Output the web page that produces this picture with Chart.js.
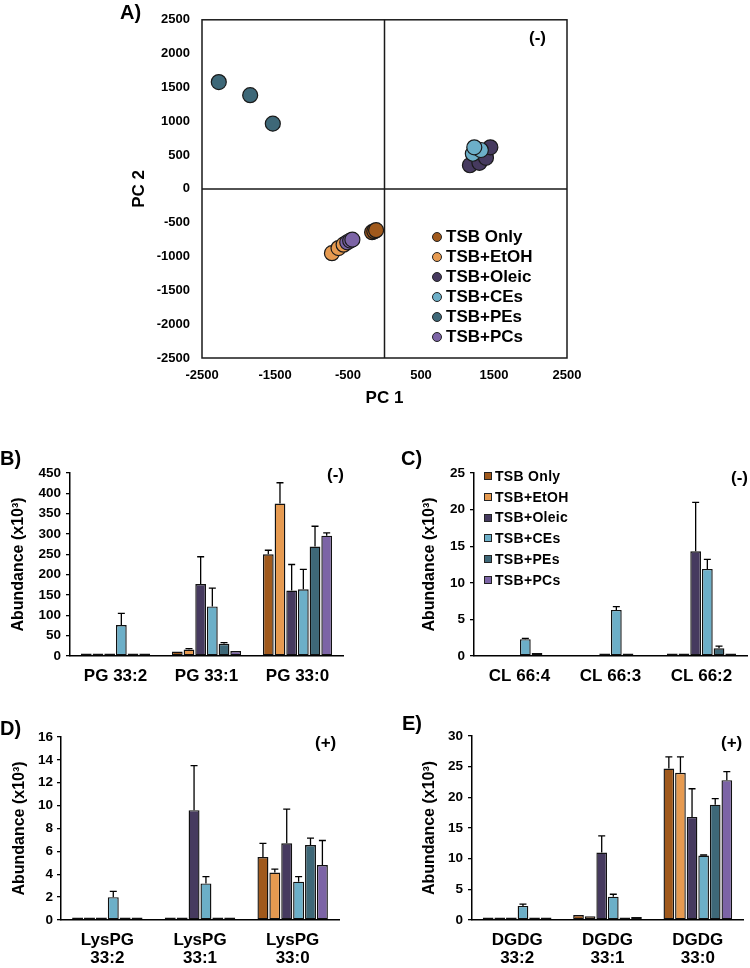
<!DOCTYPE html>
<html>
<head>
<meta charset="utf-8">
<script src="https://cdn.jsdelivr.net/npm/chart.js@4.4.0/dist/chart.umd.min.js"></script>
<style>
  body { margin: 0; background: #fff; font-family: "Liberation Sans", Arial, sans-serif; }
  #page { position: relative; width: 750px; height: 968px; overflow: hidden; }
  canvas { position: absolute; }
  .tag { position: absolute; font-weight: bold; color: #000; white-space: nowrap; line-height: 1; }
  .legend { position: absolute; font-weight: bold; color: #000; }
  .legend div { display: flex; align-items: center; white-space: nowrap; }
  .legend span.mk { display: inline-block; box-sizing: border-box; border: 1px solid #222; }
</style>
</head>
<body>
<div id="page">
  <canvas id="pca" width="500" height="420" style="left:100px;top:0"></canvas>
  <canvas id="pg" width="370" height="260" style="left:0;top:440px"></canvas>
  <canvas id="cl" width="375" height="260" style="left:375px;top:440px"></canvas>
  <canvas id="lyspg" width="370" height="268" style="left:0;top:700px"></canvas>
  <canvas id="dgdg" width="375" height="268" style="left:375px;top:700px"></canvas>

  <div class="tag" style="left:120px;top:2px;font-size:20px">A)</div>
  <div class="tag" style="left:529px;top:29px;font-size:17px">(-)</div>
  <div class="tag" style="left:0;top:448px;font-size:20px">B)</div>
  <div class="tag" style="left:327px;top:466px;font-size:17px">(-)</div>
  <div class="tag" style="left:401px;top:448px;font-size:20px">C)</div>
  <div class="tag" style="left:731px;top:469px;font-size:17px">(-)</div>
  <div class="tag" style="left:0;top:718px;font-size:20px">D)</div>
  <div class="tag" style="left:315px;top:734px;font-size:17px">(+)</div>
  <div class="tag" style="left:402px;top:713px;font-size:20px">E)</div>
  <div class="tag" style="left:721px;top:734px;font-size:17px">(+)</div>

  <div class="legend" id="legA" style="left:432px;top:227px;font-size:17px;line-height:20px"></div>
  <div class="legend" id="legC" style="left:484px;top:466px;font-size:14px;line-height:20.7px;letter-spacing:0.3px"></div>
</div>
<script>
// groups and colours
const groups = ['TSB Only', 'TSB+EtOH', 'TSB+Oleic', 'TSB+CEs', 'TSB+PEs', 'TSB+PCs'];
const colors = ['#a0591c', '#e69a50', '#463a5f', '#6cafc8', '#3e6878', '#7c64a6'];

// A) PCA scores [PC1, PC2]
const pcaTsbOnly = [[-170, -640], [-140, -625], [-115, -610]];
const pcaEtOH = [[-720, -950], [-630, -875], [-560, -825]];
const pcaOleic = [[1170, 350], [1300, 385], [1390, 460], [1450, 615]];
const pcaCEs = [[1210, 520], [1320, 575], [1230, 615]];
const pcaPEs = [[-2270, 1580], [-1840, 1385], [-1530, 965]];
const pcaPCs = [[-510, -790], [-470, -765], [-440, -750]];
const pcaTicksX = [-2500, -1500, -500, 500, 1500, 2500];

// B) PG
const pgLabels = ['PG 33:2', 'PG 33:1', 'PG 33:0'];
const pgMean = [[2, 11, 250], [2, 16, 375], [2, 177, 161], [76, 122, 164], [3, 30, 269], [2, 12, 296]];
const pgErr = [[0, 0, 10], [0, 2, 51], [0, 67, 64], [29, 45, 49], [0, 3, 50], [0, 0, 7]];

// C) CL  (null = no bar visible)
const clLabels = ['CL 66:4', 'CL 66:3', 'CL 66:2'];
const clMean = [[null, null, 0.15], [null, null, 0.1], [null, 0.35, 14.3], [2.3, 6.3, 11.9], [0.4, 0.1, 1.05], [null, null, 0.1]];
const clErr = [[0, 0, 0], [0, 0, 0], [0, 0, 6.7], [0.1, 0.45, 1.3], [0, 0, 0.3], [0, 0, 0]];

// D) LysPG
const lyspgLabels = [['LysPG', '33:2'], ['LysPG', '33:1'], ['LysPG', '33:0']];
const lyspgMean = [[0.1, 0.1, 5.5], [0.1, 0.1, 4.15], [0.1, 9.6, 6.7], [2.0, 3.2, 3.35], [0.1, 0.1, 6.55], [0.1, 0.1, 4.8]];
const lyspgErr = [[0, 0, 1.2], [0, 0, 0.3], [0, 3.9, 3.0], [0.5, 0.6, 0.45], [0, 0, 0.6], [0, 0, 2.15]];

// E) DGDG
const dgdgLabels = [['DGDG', '33:2'], ['DGDG', '33:1'], ['DGDG', '33:0']];
const dgdgMean = [[0.15, 0.8, 24.7], [0.15, 0.6, 24.0], [0.15, 11.0, 16.8], [2.3, 3.8, 10.5], [0.1, 0.4, 18.8], [0.1, 0.5, 22.8]];
const dgdgErr = [[0, 0, 1.9], [0, 0, 2.6], [0, 2.7, 4.6], [0.3, 0.4, 0.1], [0, 0, 1.0], [0, 0, 1.4]];

Chart.defaults.font.family = '"Liberation Sans", Arial, sans-serif';
Chart.defaults.font.weight = 'bold';
Chart.defaults.color = '#000';
Chart.defaults.animation = false;

// box + zero cross lines for the PCA plot
const pcaFrame = {
    id: 'pcaFrame',
    beforeDatasetsDraw(chart) {
        const { ctx, chartArea: a, scales: { x, y } } = chart;
        const x0 = x.getPixelForValue(0), y0 = y.getPixelForValue(0);
        ctx.save();
        ctx.strokeStyle = '#1a1a1a';
        ctx.lineWidth = 1.5;
        ctx.strokeRect(a.left, a.top, a.width, a.height);
        ctx.beginPath();
        ctx.moveTo(x0, a.top); ctx.lineTo(x0, a.bottom);
        ctx.moveTo(a.left, y0); ctx.lineTo(a.right, y0);
        ctx.stroke();
        ctx.restore();
    }
};

// upper error bars on top of each bar
const errorBars = {
    id: 'errorBars',
    afterDatasetsDraw(chart, args, opts) {
        const errs = opts.errors;
        if (!errs) return;
        const ctx = chart.ctx, y = chart.scales.y;
        ctx.save();
        ctx.strokeStyle = '#000';
        ctx.lineWidth = 1.3;
        chart.data.datasets.forEach((ds, i) => {
            chart.getDatasetMeta(i).data.forEach((bar, j) => {
                const e = errs[i][j];
                if (!e || ds.data[j] == null) return;
                const top = y.getPixelForValue(ds.data[j] + e);
                ctx.beginPath();
                ctx.moveTo(bar.x, bar.y);
                ctx.lineTo(bar.x, top);
                ctx.moveTo(bar.x - 3.5, top);
                ctx.lineTo(bar.x + 3.5, top);
                ctx.stroke();
            });
        });
        ctx.restore();
    }
};

const pcaSets = [pcaTsbOnly, pcaEtOH, pcaOleic, pcaCEs, pcaPEs, pcaPCs];
new Chart(document.getElementById('pca'), {
    type: 'scatter',
    data: {
        datasets: pcaSets.map((pts, i) => ({
            label: groups[i],
            data: pts.map(p => ({ x: p[0], y: p[1] })),
            backgroundColor: colors[i],
            borderColor: '#1a1a1a',
            borderWidth: 1.2,
            pointRadius: 7.5,
            order: -i
        }))
    },
    options: {
        responsive: false,
        layout: { padding: { left: 0, right: 33, top: 15, bottom: 0 } },
        plugins: { legend: { display: false }, tooltip: { enabled: false } },
        scales: {
            x: {
                min: -2500, max: 2500,
                afterBuildTicks: s => { s.ticks = pcaTicksX.map(v => ({ value: v })); },
                afterFit: s => { s.height = 62; },
                grid: { display: false, drawTicks: false },
                border: { display: false },
                ticks: { font: { size: 13 }, padding: 10, maxRotation: 0, callback: v => v },
                title: { display: true, text: 'PC 1', font: { size: 17 }, padding: { top: 0, bottom: 11 } }
            },
            y: {
                min: -2500, max: 2500,
                ticks: { stepSize: 500, font: { size: 13 }, padding: 12, callback: v => v },
                afterFit: s => { s.width = 102; },
                grid: { display: false, drawTicks: false },
                border: { display: false },
                title: { display: true, text: 'PC 2', font: { size: 17 }, padding: { top: 29, bottom: 0 } }
            }
        }
    },
    plugins: [pcaFrame]
});

function barChart(id, labels, means, errs, yMax, yStep, g) {
    new Chart(document.getElementById(id), {
        type: 'bar',
        data: {
            labels: labels,
            datasets: means.map((m, i) => ({
                label: groups[i],
                data: m,
                backgroundColor: colors[i],
                borderColor: '#111',
                borderWidth: 1.4,
                borderSkipped: false,
                minBarLength: 2.5,
                categoryPercentage: 0.77,
                barPercentage: 0.92
            }))
        },
        options: {
            responsive: false,
            layout: { padding: { left: 0, right: g.right, top: g.top, bottom: 0 } },
            plugins: { legend: { display: false }, tooltip: { enabled: false }, errorBars: { errors: errs } },
            scales: {
                x: {
                    afterFit: s => { s.height = g.xh; },
                    grid: { display: false, drawTicks: false },
                    border: { display: true, color: '#000', width: 1.5 },
                    ticks: { font: { size: 17, lineHeight: 1.08 }, padding: g.xpad, maxRotation: 0, autoSkip: false }
                },
                y: {
                    min: 0, max: yMax,
                    afterFit: s => { s.width = g.yw; },
                    grid: { display: true, drawOnChartArea: false, drawTicks: true, tickLength: 4, color: '#000', lineWidth: 1.3 },
                    border: { display: true, color: '#000', width: 1.5 },
                    ticks: { stepSize: yStep, font: { size: 13.5 }, padding: g.ypad },
                    title: { display: true, text: 'Abundance (x10³)', font: { size: 16 }, padding: { top: g.tpad, bottom: 0 } }
                }
            }
        },
        plugins: [errorBars]
    });
}

barChart('pg', pgLabels, pgMean, pgErr, 450, 50, { yw: 70, right: 27, top: 33, xh: 44, xpad: 11, ypad: 5, tpad: 9 });
barChart('cl', clLabels, clMean, clErr, 25, 5, { yw: 99, right: 3, top: 33, xh: 44, xpad: 11, ypad: 5, tpad: 45 });
barChart('lyspg', lyspgLabels, lyspgMean, lyspgErr, 16, 2, { yw: 61, right: 31, top: 37, xh: 48, xpad: 11, ypad: 4, tpad: 10 });
barChart('dgdg', dgdgLabels, dgdgMean, dgdgErr, 30, 5, { yw: 97, right: 7, top: 36, xh: 48, xpad: 11, ypad: 5, tpad: 45 });

// legends as html
function fillLegend(id, round, size) {
    const el = document.getElementById(id);
    groups.forEach((name, i) => {
        const row = document.createElement('div');
        const mk = document.createElement('span');
        mk.className = 'mk';
        mk.style.width = size + 'px';
        mk.style.height = size + 'px';
        mk.style.background = colors[i];
        mk.style.borderRadius = round ? '50%' : '0';
        mk.style.marginRight = round ? '4px' : '3px';
        row.appendChild(mk);
        row.appendChild(document.createTextNode(name));
        el.appendChild(row);
    });
}
fillLegend('legA', true, 10);
fillLegend('legC', false, 8);
</script>
</body>
</html>
